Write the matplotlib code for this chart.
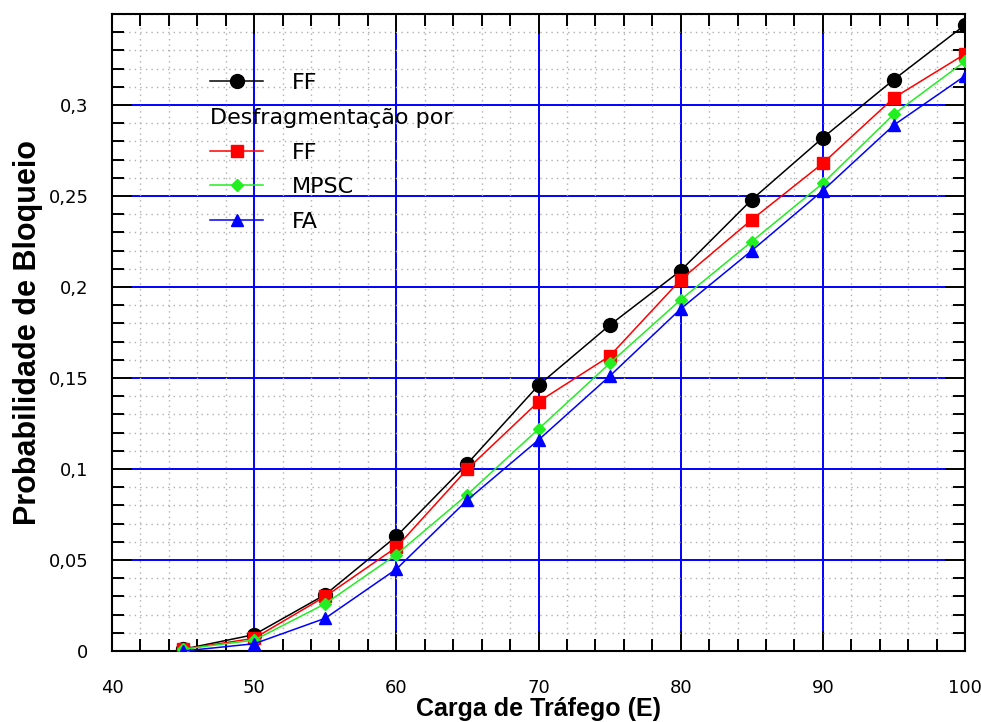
import matplotlib
matplotlib.use("Agg")
import matplotlib.pyplot as plt
from matplotlib.lines import Line2D
from matplotlib.ticker import MultipleLocator, FuncFormatter

# dados
carga = [45, 50, 55, 60, 65, 70, 75, 80, 85, 90, 95, 100]
ff = [0.001, 0.009, 0.031, 0.063, 0.103, 0.146, 0.179, 0.209, 0.248, 0.282, 0.314, 0.344]
desf_ff = [0.001, 0.007, 0.030, 0.057, 0.100, 0.137, 0.162, 0.204, 0.237, 0.268, 0.304, 0.328]
desf_mpsc = [0.001, 0.006, 0.026, 0.053, 0.086, 0.122, 0.158, 0.193, 0.225, 0.257, 0.295, 0.324]
desf_fa = [0.000, 0.004, 0.018, 0.045, 0.083, 0.116, 0.151, 0.188, 0.220, 0.253, 0.289, 0.316]

xticks = [40, 50, 60, 70, 80, 90, 100]
yticks = [0, 0.05, 0.1, 0.15, 0.2, 0.25, 0.3]

fig = plt.figure(figsize=(9.81, 7.22), dpi=100)
ax = fig.add_axes([0.1142, 0.0983, 0.8695, 0.8823])

ax.set_xlim(40, 100)
ax.set_ylim(0, 0.35)

# grade secundaria pontilhada
ax.xaxis.set_minor_locator(MultipleLocator(2))
ax.yaxis.set_minor_locator(MultipleLocator(0.01))
ax.grid(which='minor', color='#b0b0b0', linestyle=(0, (1, 3)), linewidth=1)

# grade principal azul (comeca no fim dos ticks)
gx = 20 / 853
gy = 20 / 637
for v in yticks[1:]:
    ax.axhline(v, xmin=gx, xmax=1 - gx, color='#0000ff', lw=1.4, zorder=1)
for v in xticks[1:-1]:
    ax.axvline(v, ymin=gy, ymax=1 - gy, color='#0000ff', lw=1.4, zorder=1)

ax.plot(carga, ff, color='black', lw=1.1, marker='o', ms=10, label='FF', zorder=3)
ax.plot(carga, desf_ff, color='#ff0000', lw=1.1, marker='s', ms=9, label='FF', zorder=3)
ax.plot(carga, desf_mpsc, color='#22ee22', lw=1.1, marker='D', ms=6, label='MPSC', zorder=3)
ax.plot(carga, desf_fa, color='#0000ff', lw=1.1, marker='^', ms=8, label='FA', zorder=3)

ax.set_xticks(xticks)
ax.set_yticks(yticks)
fmt = FuncFormatter(lambda v, p: ('%g' % v).replace('.', ','))
ax.yaxis.set_major_formatter(fmt)
ax.tick_params(which='both', direction='in', top=True, right=True, width=1.4, labelsize=13)
ax.tick_params(which='major', length=14.4)
ax.tick_params(which='minor', length=8.6)
ax.tick_params(axis='x', pad=20)
ax.tick_params(axis='y', pad=17)
for s in ax.spines.values():
    s.set_linewidth(1.5)

ax.set_xlabel('Carga de Tráfego (E)', fontsize=18, fontweight='bold', family='Liberation Sans', labelpad=0.5)
ax.set_ylabel('Probabilidade de Bloqueio', fontsize=22, fontweight='bold', family='Liberation Sans', labelpad=4)

# legenda com titulo intermediario
hs, ls = ax.get_legend_handles_labels()
vazio = Line2D([], [], alpha=0)
handles = [hs[0], vazio, hs[1], hs[2], hs[3]]
labels = [ls[0], 'Desfragmentação por', ls[1], ls[2], ls[3]]
fs = 16
hl = 38 / fs
hp = 21 / fs
leg = ax.legend(handles, labels, loc='upper left', bbox_to_anchor=(0.115, 0.907),
                frameon=False, fontsize=fs, handlelength=hl, handletextpad=hp,
                labelspacing=0.66, borderpad=0, borderaxespad=0)
shift = (hl + hp) * fs * fig.dpi / 72
leg.get_texts()[1].set_x(-shift)

fig.savefig('out.png', dpi=100)
